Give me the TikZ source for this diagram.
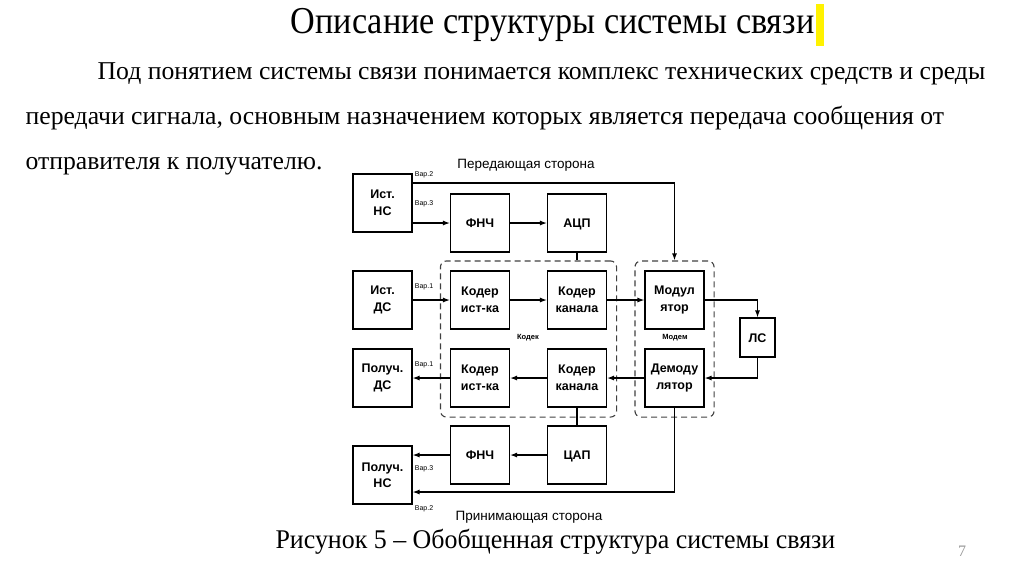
\documentclass[tikz,border=0pt]{standalone}
\usepackage{fontspec}
\setmainfont{Liberation Serif}
\setsansfont{Liberation Sans}
\usetikzlibrary{positioning,fit,arrows.meta}
\tikzset{
  blk/.style={draw, line width=1.1pt, minimum width=59pt, minimum height=58pt, inner sep=0pt, align=center,
    font=\sffamily\bfseries\fontsize{12.5}{16.5}\selectfont},
  blk1/.style={blk, text height=9pt, text depth=0pt},
  var/.style={font=\sffamily\fontsize{7}{8}\selectfont, inner sep=0pt},
  side/.style={font=\sffamily\fontsize{13.5}{16}\selectfont, inner sep=0pt},
  grp/.style={draw=black!75, dash pattern=on 6pt off 4pt, rounded corners=6pt, line width=1.1pt, inner sep=9.5pt},
  body/.style={font=\fontsize{25.7}{28}\selectfont, inner sep=0pt, anchor=base west},
}
\begin{document}
\begin{tikzpicture}[x=1pt, y=-1pt, >={Latex[length=7pt,width=5pt]}, line width=1.2pt]
\useasboundingbox (0,0) rectangle (1024,574);
% heading and text
\fill[yellow] (816,4) rectangle (824,46);
\node[font=\fontsize{38}{40}\selectfont, inner sep=0pt, anchor=base east, xscale=0.9, transform shape] (title) at (815,33) {Описание структуры системы связи};
\node[body] (par1) at (97,79) {Под понятием системы связи понимается комплекс технических средств и среды};
\node[body] (par2) at (25,124) {передачи сигнала, основным назначением которых является передача сообщения от};
\node[body] (par3) at (25,169) {отправителя к получателю.};

% transmitting side
\node[blk] (istNS) at (382.5,203) {Ист.\\НС};
\node[blk1] (fnchT) at (480,223) {ФНЧ};
\node[blk1] (acp) at (577,223) {АЦП};
\node[blk] (istDS) at (382.5,300) {Ист.\\ДС};
\node[blk] (kodIst) at (480,300) {Кодер\\ист-ка};
\node[blk] (kodKan) at (577,300) {Кодер\\канала};
\node[blk] (mod) at (674.5,300) {Модул\\ятор};
\node[blk1, minimum width=35pt, minimum height=39pt] (ls) at (757.5,337.5) {ЛС};

% receiving side
\node[blk] (polDS) at (382.5,378) {Получ.\\ДС};
\node[blk] (dekIst) at (480,378) {Кодер\\ист-ка};
\node[blk] (dekKan) at (577,378) {Кодер\\канала};
\node[blk] (demod) at (674.5,378) {Демоду\\лятор};
\node[blk1] (fnchB) at (480,455) {ФНЧ};
\node[blk1] (cap) at (577,455) {ЦАП};
\node[blk] (polNS) at (382.5,475) {Получ.\\НС};

% groups
\node[grp, fit=(kodIst)(dekKan)] (codec) {};
\node[grp, fit=(mod)(demod)] (modem) {};
\node[font=\sffamily\bfseries\fontsize{7.5}{9}\selectfont] (codecLbl) at (528,338) {Кодек};
\node[font=\sffamily\bfseries\fontsize{7.5}{9}\selectfont] (modemLbl) at (675,338) {Модем};

\node[side] (txSide) at (526,165) {Передающая сторона};
\node[side] (rxSide) at (529,517) {Принимающая сторона};

% connectors
\draw[->] ([yshift=20pt]istNS.east) -| (modem.north);
\draw[->] (istNS.east |- fnchT) -- (fnchT);
\draw[->] (fnchT) -- (acp);
\draw (acp.south) -- (acp.south |- codec.north);
\draw[->] (istDS) -- (kodIst);
\draw[->] (kodIst) -- (kodKan);
\draw[->] (kodKan) -- (mod);
\draw[->] (mod.east) -| (ls.north);
\draw[->] (ls.south) |- (demod.east);
\draw[->] (demod) -- (dekKan);
\draw[->] (dekKan) -- (dekIst);
\draw[->] (dekIst) -- (polDS);
\draw (dekKan.south) -- (cap.north);
\draw[->] (cap) -- (fnchB);
\draw[->] (fnchB) -- (polNS.east |- fnchB);
\draw[->] (demod.south) |- ([yshift=-17pt]polNS.east);

\node[var, anchor=south] (v2a) at (424,179) {Вар.2};
\node[var, anchor=south] (v3a) at (424,208) {Вар.3};
\node[var, anchor=south] (v1a) at (424,291) {Вар.1};
\node[var, anchor=south] (v1b) at (424,369) {Вар.1};
\node[var, anchor=north] (v3b) at (424,465) {Вар.3};
\node[var, anchor=north] (v2b) at (424,505) {Вар.2};

% caption
\node[font=\fontsize{27}{30}\selectfont, inner sep=0pt, anchor=base west, xscale=0.96, transform shape] (caption) at (275,548) {Рисунок 5 – Обобщенная структура системы связи};
\node[font=\fontsize{16}{18}\selectfont, text=black!40, inner sep=0pt] (pageNo) at (962,551) {7};
\end{tikzpicture}
\end{document}
